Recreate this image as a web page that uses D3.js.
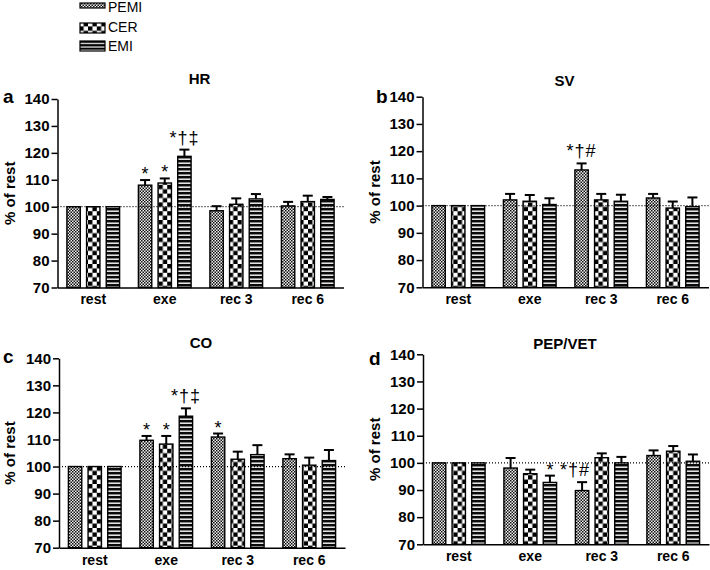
<!DOCTYPE html>
<html><head><meta charset="utf-8">
<script src="https://cdn.jsdelivr.net/npm/d3@7"></script>
<style>
body{margin:0;background:#fff}
svg{display:block;font-family:"Liberation Sans",Arial,Helvetica,sans-serif}
text{fill:#000}
</style>
</head><body>
<svg id="chart" width="710" height="570"></svg>
<script>
// ---------- data ----------
const categories = ["rest", "exe", "rec 3", "rec 6"];
const seriesNames = ["PEMI", "CER", "EMI"];
const yTicks = [70, 80, 90, 100, 110, 120, 130, 140];
const panelLetters = ["a", "b", "c", "d"];
const panelTitles = ["HR", "SV", "CO", "PEP/VET"];

// HR
const hrPEMI = [100, 108.0, 98.5, 100.3];
const hrCER  = [100, 108.8, 100.9, 101.9];
const hrEMI  = [100, 118.7, 102.9, 102.7];
const hrErrPEMI = [0, 1.9, 1.7, 1.5];
const hrErrCER  = [0, 1.7, 2.2, 2.2];
const hrErrEMI  = [0, 2.5, 1.8, 0.9];
const hrMarks = [["exe", "PEMI", "*"], ["exe", "CER", "*"], ["exe", "EMI", "*†‡"]];

// SV
const svPEMI = [100, 102.1, 113.1, 102.8];
const svCER  = [100, 101.6, 102.1, 99.1];
const svEMI  = [100, 100.4, 101.6, 99.6];
const svErrPEMI = [0, 2.2, 2.4, 1.5];
const svErrCER  = [0, 2.3, 2.2, 2.4];
const svErrEMI  = [0, 2.3, 2.4, 3.4];
const svMarks = [["rec 3", "PEMI", "*†#"]];

// CO
const coPEMI = [100, 109.7, 110.9, 102.9];
const coCER  = [100, 108.3, 102.7, 100.5];
const coEMI  = [100, 118.6, 104.4, 102.2];
const coErrPEMI = [0, 1.6, 1.3, 1.6];
const coErrCER  = [0, 3.0, 2.8, 2.8];
const coErrEMI  = [0, 2.9, 3.5, 3.9];
const coMarks = [["exe", "PEMI", "*"], ["exe", "CER", "*"], ["exe", "EMI", "*†‡"], ["rec 3", "PEMI", "*"]];

// PEP/VET
const pepPEMI = [100, 98.1, 89.8, 102.7];
const pepCER  = [100, 96.0, 101.9, 104.3];
const pepEMI  = [100, 92.8, 100.0, 100.6];
const pepErrPEMI = [0, 3.7, 3.1, 1.9];
const pepErrCER  = [0, 1.5, 1.6, 1.9];
const pepErrEMI  = [0, 2.5, 2.2, 2.5];
const pepMarks = [["exe", "EMI", "*"], ["rec 3", "PEMI", "*†#"]];

const panelData = [
  {mean: [hrPEMI, hrCER, hrEMI], err: [hrErrPEMI, hrErrCER, hrErrEMI], marks: hrMarks},
  {mean: [svPEMI, svCER, svEMI], err: [svErrPEMI, svErrCER, svErrEMI], marks: svMarks},
  {mean: [coPEMI, coCER, coEMI], err: [coErrPEMI, coErrCER, coErrEMI], marks: coMarks},
  {mean: [pepPEMI, pepCER, pepEMI], err: [pepErrPEMI, pepErrCER, pepErrEMI], marks: pepMarks}
];

// ---------- layout ----------
const layout = [
  {x0: 57.5, x1: 343.5, y0: 99,   y1: 287.5, letterX: 3,   letterY: 103, titleY: 84,  ylabX: 15, markDx: {}},
  {x0: 422.5, x1: 708.5, y0: 96.7, y1: 287.3, letterX: 376, letterY: 103, titleY: 86,  ylabX: 380, markDx: {}},
  {x0: 59,   x1: 345,   y0: 358.3, y1: 547.7, letterX: 3,   letterY: 363, titleY: 348, ylabX: 15, markDx: {}},
  {x0: 423,  x1: 709,   y0: 354.3, y1: 544.3, letterX: 369, letterY: 365, titleY: 349, ylabX: 380, markDx: {"rec 3|PEMI": -7}}
];

const svg = d3.select("#chart");
const defs = svg.append("defs");

// patterns
function checker(id, cell, dark, light) {
  const p = defs.append("pattern").attr("id", id).attr("patternUnits", "userSpaceOnUse")
    .attr("width", cell * 2).attr("height", cell * 2);
  p.append("rect").attr("width", cell * 2).attr("height", cell * 2).attr("fill", light);
  p.append("rect").attr("width", cell).attr("height", cell).attr("fill", dark);
  p.append("rect").attr("x", cell).attr("y", cell).attr("width", cell).attr("height", cell).attr("fill", dark);
}
checker("pat-PEMI", 1.5, "#111", "#eee");
checker("pat-CER", 4.4, "#000", "#fff");
{
  const p = defs.append("pattern").attr("id", "pat-EMI").attr("patternUnits", "userSpaceOnUse")
    .attr("width", 4).attr("height", 4);
  p.append("rect").attr("width", 4).attr("height", 4).attr("fill", "#fff");
  p.append("rect").attr("y", 0).attr("width", 4).attr("height", 2.4).attr("fill", "#0a0a0a");
  p.append("rect").attr("y", 2.4).attr("width", 4).attr("height", 0.8).attr("fill", "#777");
}
{
  const p = defs.append("pattern").attr("id", "pat-EMI-leg").attr("patternUnits", "userSpaceOnUse")
    .attr("width", 4).attr("height", 3.4);
  p.append("rect").attr("width", 4).attr("height", 3.4).attr("fill", "#fff");
  p.append("rect").attr("width", 4).attr("height", 2.2).attr("fill", "#000");
}

// ---------- legend ----------
const legend = svg.append("g");
const legSw = [
  {y: 3, h: 5, fill: "url(#pat-PEMI)", ty: 11.5},
  {y: 23, h: 10, fill: "url(#pat-CER)", ty: 31.5},
  {y: 41, h: 10, fill: "url(#pat-EMI-leg)", ty: 50.5}
];
seriesNames.forEach((s, i) => {
  const L = legSw[i];
  legend.append("rect").attr("x", 80).attr("y", L.y).attr("width", 25).attr("height", L.h)
    .attr("fill", L.fill).attr("stroke", "#000").attr("stroke-width", 1.2);
  legend.append("text").attr("x", 108).attr("y", L.ty).attr("font-size", 14).text(s);
});

// ---------- panels ----------
panelData.forEach((pd, pi) => {
  const L = layout[pi];
  const g = svg.append("g");
  const x = d3.scaleBand().domain(categories).range([L.x0, L.x1]).paddingInner(0.263).paddingOuter(0.1315);
  const xs = d3.scaleBand().domain(seriesNames).range([0, x.bandwidth()]).paddingInner(0.32).paddingOuter(0);
  const y = d3.scaleLinear().domain([70, 140]).range([L.y1, L.y0]);

  // bars
  seriesNames.forEach((s, si) => {
    const rows = categories.map((c, ci) => ({c, s, v: pd.mean[si][ci], e: pd.err[si][ci]}));
    g.selectAll(null).data(rows).enter().append("rect")
      .attr("x", d => x(d.c) + xs(d.s))
      .attr("y", d => y(d.v))
      .attr("width", xs.bandwidth())
      .attr("height", d => y(70) - y(d.v))
      .attr("fill", `url(#pat-${s})`)
      .attr("stroke", "#000").attr("stroke-width", 1.4);
    const eb = rows.filter(d => d.e > 0);
    g.selectAll(null).data(eb).enter().append("line")
      .attr("x1", d => x(d.c) + xs(d.s) + xs.bandwidth() / 2)
      .attr("x2", d => x(d.c) + xs(d.s) + xs.bandwidth() / 2)
      .attr("y1", d => y(d.v)).attr("y2", d => y(d.v + d.e))
      .attr("stroke", "#000").attr("stroke-width", 2);
    g.selectAll(null).data(eb).enter().append("line")
      .attr("x1", d => x(d.c) + xs(d.s) + xs.bandwidth() / 2 - 5)
      .attr("x2", d => x(d.c) + xs(d.s) + xs.bandwidth() / 2 + 5)
      .attr("y1", d => y(d.v + d.e)).attr("y2", d => y(d.v + d.e))
      .attr("stroke", "#000").attr("stroke-width", 2);
  });

  // reference dotted line at 100
  g.append("line").attr("x1", L.x0).attr("x2", L.x1).attr("y1", y(100)).attr("y2", y(100))
    .attr("stroke", "#000").attr("stroke-width", 1.2).attr("stroke-dasharray", "1,2");

  // annotations
  pd.marks.forEach(([c, s, t]) => {
    const si = seriesNames.indexOf(s), ci = categories.indexOf(c);
    const top = pd.mean[si][ci] + pd.err[si][ci];
    const dx = L.markDx[c + "|" + s] || 0;
    g.append("text")
      .attr("x", x(c) + xs(s) + xs.bandwidth() / 2 + dx)
      .attr("y", y(top) - (t.length > 1 ? 6 : 0))
      .attr("text-anchor", "middle").attr("font-size", 18)
      .attr("letter-spacing", t.length > 1 ? 1 : 0).text(t);
  });

  // y axis
  const ya = g.append("g").attr("transform", `translate(${L.x0},0)`)
    .call(d3.axisLeft(y).tickValues(yTicks).tickSize(6).tickSizeOuter(0).tickPadding(2));
  ya.select(".domain").attr("stroke-width", 1.5);
  ya.selectAll(".tick line").attr("stroke-width", 1.5);
  ya.selectAll(".tick text").attr("font-size", 15).attr("font-weight", "bold")
    .attr("font-family", "'Liberation Sans',Arial,sans-serif").style("fill", "#000");

  // x axis
  const xa = g.append("g").attr("transform", `translate(0,${L.y1})`)
    .call(d3.axisBottom(x).tickSize(0).tickSizeOuter(0).tickPadding(7));
  xa.select(".domain").attr("stroke-width", 1.5);
  xa.selectAll(".tick text").attr("font-size", 14).attr("font-weight", "bold")
    .attr("font-family", "'Liberation Sans',Arial,sans-serif").style("fill", "#000");

  // title, letter, y label
  g.append("text").attr("x", (L.x0 + L.x1) / 2 - 1).attr("y", L.titleY).attr("text-anchor", "middle")
    .attr("font-size", 15).attr("font-weight", "bold").text(panelTitles[pi]);
  g.append("text").attr("x", L.letterX).attr("y", L.letterY)
    .attr("font-size", 19).attr("font-weight", "bold").text(panelLetters[pi]);
  g.append("text").attr("transform", `translate(${L.ylabX},${(L.y0 + L.y1) / 2}) rotate(-90)`)
    .attr("text-anchor", "middle").attr("font-size", 15).attr("font-weight", "bold").text("% of rest");
});
</script>
</body></html>
